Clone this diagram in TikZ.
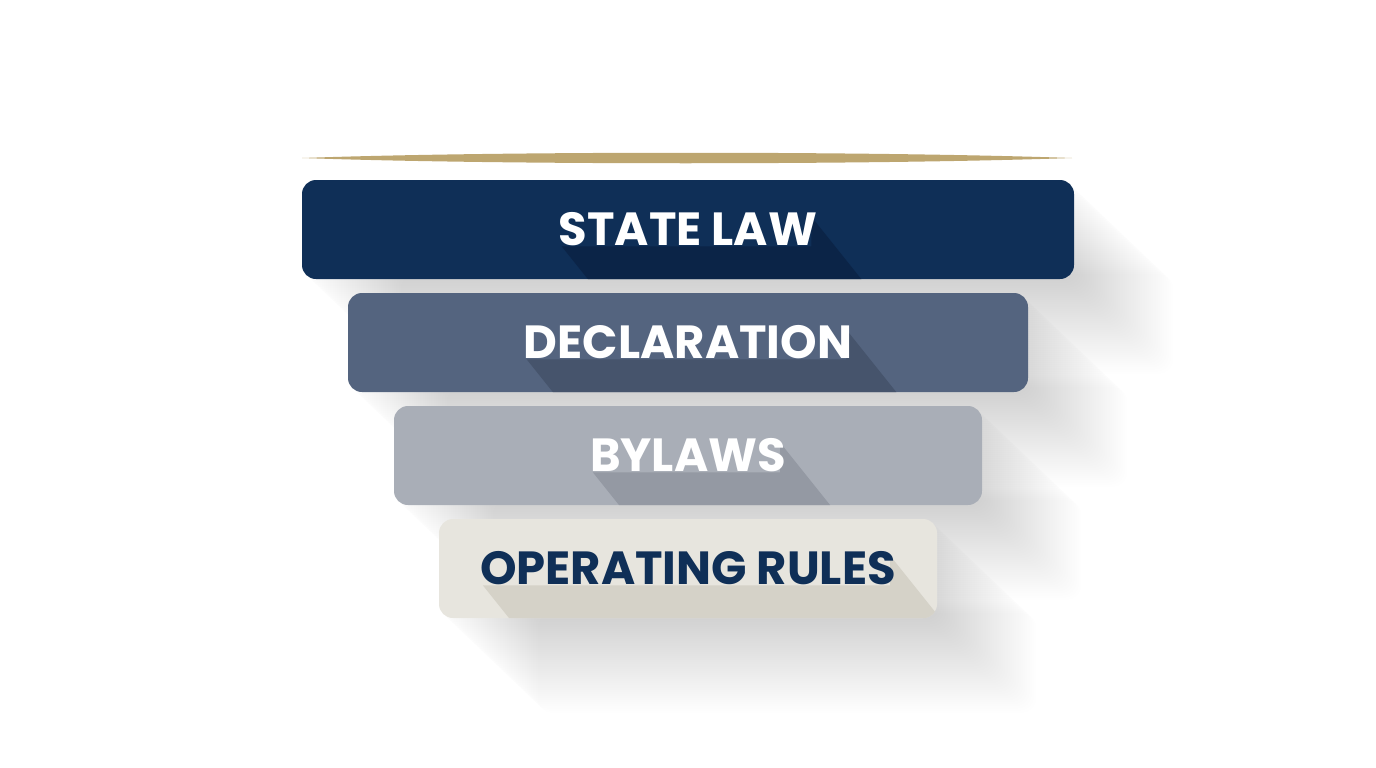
\documentclass[tikz,border=0pt]{standalone}
\usepackage{fontspec}
\setmainfont{Poppins}
\usetikzlibrary{calc}

\definecolor{gold}{HTML}{BDA670}
\definecolor{navy}{HTML}{0F2F57}
\definecolor{navyshade}{HTML}{0B2447}
\definecolor{slate}{HTML}{54647F}
\definecolor{slateshade}{HTML}{46546C}
\definecolor{silver}{HTML}{A9AEB7}
\definecolor{silvershade}{HTML}{9499A3}
\definecolor{cream}{HTML}{E7E5DE}
\definecolor{creamshade}{HTML}{D5D2C8}

\pgfdeclarelayer{bg}
\pgfdeclarelayer{tiers}
\pgfdeclarelayer{shade}
\pgfsetlayers{bg,tiers,shade,main}

\tikzset{
  tier/.style={rounded corners=14pt, minimum height=99pt, inner sep=0pt},
  tiertext/.style={inner sep=0pt, font=\fontsize{46.5}{50}\selectfont\bfseries},
}

\begin{document}
\begin{tikzpicture}[x=1pt,y=-1pt]

\useasboundingbox (0,0) rectangle (1376,768);

% gold rule
\fill[gold] (302,158) .. controls (500,151) and (870,151) .. (1072,158)
            .. controls (870,165) and (500,165) .. (302,158);

% the four tiers
\begin{pgfonlayer}{tiers}
\node[tier, fill=navy, minimum width=772pt] (law) at (688,229.5) {};
\node[tier, fill=slate, minimum width=680pt] (decl) at (688,342.5) {};
\node[tier, fill=silver, minimum width=588pt] (bylaws) at (688,455.5) {};
\node[tier, fill=cream, minimum width=498pt] (rules) at (688,568.5) {};
\end{pgfonlayer}

% long soft shadows of the boxes
\begin{pgfonlayer}{bg}
\foreach \n in {law,decl,bylaws,rules}{
  \foreach \i in {1,...,45}
    \fill[black, opacity=0.0022, rounded corners=14pt]
      ([shift={(\i*2.2,\i*2.1)}]\n.north west) rectangle ([shift={(\i*2.2,\i*2.1)}]\n.south east);
}
\end{pgfonlayer}

% labels
\node[tiertext, text=white] (lawtext) at (law.center) {STATE LAW};
\node[tiertext, text=white] (decltext) at (decl.center) {DECLARATION};
\node[tiertext, text=white] (bylawstext) at (bylaws.center) {BYLAWS};
\node[tiertext, text=navy] (rulestext) at (rules.center) {OPERATING RULES};

% long shadows of the labels
\begin{pgfonlayer}{shade}
\begin{scope}
\clip[rounded corners=14pt] (law.north west) rectangle (law.south east);
\fill[navyshade] ([xshift=3pt]lawtext.south west) -- ++(80,100) -- ([shift={(74,104)}]lawtext.north east)
  -- ([shift={(-6,4)}]lawtext.north east) -- ([xshift=-6pt]lawtext.south east) -- cycle;
\end{scope}
\begin{scope}
\clip[rounded corners=14pt] (decl.north west) rectangle (decl.south east);
\fill[slateshade] ([xshift=3pt]decltext.south west) -- ++(80,100) -- ([shift={(74,104)}]decltext.north east)
  -- ([shift={(-6,4)}]decltext.north east) -- ([xshift=-6pt]decltext.south east) -- cycle;
\end{scope}
\begin{scope}
\clip[rounded corners=14pt] (bylaws.north west) rectangle (bylaws.south east);
\fill[silvershade] ([xshift=3pt]bylawstext.south west) -- ++(80,100) -- ([shift={(74,104)}]bylawstext.north east)
  -- ([shift={(-6,4)}]bylawstext.north east) -- ([xshift=-6pt]bylawstext.south east) -- cycle;
\end{scope}
\begin{scope}
\clip[rounded corners=14pt] (rules.north west) rectangle (rules.south east);
\fill[creamshade] ([xshift=3pt]rulestext.south west) -- ++(80,100) -- ([shift={(74,104)}]rulestext.north east)
  -- ([shift={(-6,4)}]rulestext.north east) -- ([xshift=-6pt]rulestext.south east) -- cycle;
\end{scope}
\end{pgfonlayer}

\end{tikzpicture}
\end{document}
